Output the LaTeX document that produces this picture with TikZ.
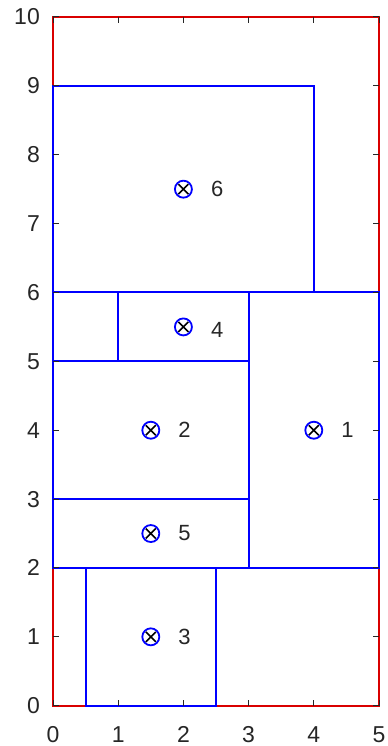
\documentclass[tikz,border=0pt]{standalone}
\usepackage{fontspec}
\setmainfont{Liberation Sans}
\usetikzlibrary{positioning}
\definecolor{axisgray}{RGB}{38,38,38}
\begin{document}
\begin{tikzpicture}[x=65.2pt,y=68.87pt,
  box/.style={draw=blue, line width=2pt},
  bin/.style={draw=red!85!black, line width=2.2pt},
  cent/.style={circle, draw=blue, line width=1.8pt, minimum size=17pt, inner sep=0pt,
    path picture={\draw[black, line width=1.6pt]
      ([shift={(-5pt,-5pt)}]path picture bounding box.center) -- ([shift={(5pt,5pt)}]path picture bounding box.center)
      ([shift={(-5pt,5pt)}]path picture bounding box.center) -- ([shift={(5pt,-5pt)}]path picture bounding box.center);}},
  num/.style={inner sep=0pt, font=\fontsize{22}{22}\selectfont, text=axisgray},
  ticklab/.style={inner sep=0pt, font=\fontsize{23}{23}\selectfont, text=axisgray}]
\useasboundingbox (-0.813,-0.585) rectangle (5.123,10.247);
% container
\draw[bin] (0,0) rectangle (5,10);
% placed parts
\draw[box] (0,6) rectangle (4,9);
\draw[box] (1,5) rectangle (3,6);
\draw[box] (0,5) rectangle (1,6);
\draw[box] (3,2) rectangle (5,6);
\draw[box] (0,3) rectangle (3,5);
\draw[box] (0,2) rectangle (3,3);
\draw[box] (0.5,0) rectangle (2.5,2);
% centres
\node[cent] (m1) at (4,4) {};
\node[cent] (m2) at (1.5,4) {};
\node[cent] (m3) at (1.5,1) {};
\node[cent] (m4) at (2,5.5) {};
\node[cent] (m5) at (1.5,2.5) {};
\node[cent] (m6) at (2,7.5) {};
\node[num, right=18pt of m1] (l1) {1};
\node[num, right=18pt of m2] (l2) {2};
\node[num, right=18pt of m3] (l3) {3};
\node[num, right=18pt of m4, yshift=-3pt] (l4) {4};
\node[num, right=18pt of m5] (l5) {5};
\node[num, right=18pt of m6] (l6) {6};
% ticks
\foreach \x in {0,...,5} {
  \draw[axisgray, line width=1pt] (\x,0) -- ++(0,6pt) (\x,10) -- ++(0,-6pt);
  \node[ticklab, anchor=base] at ([yshift=-37pt]\x,0) {\x};
}
\foreach \y in {0,...,10} {
  \draw[axisgray, line width=1pt] (0,\y) -- ++(6pt,0) (5,\y) -- ++(-6pt,0);
  \node[ticklab, anchor=base east] at ([xshift=-13pt,yshift=-8pt]0,\y) {\y};
}
\end{tikzpicture}
\end{document}
